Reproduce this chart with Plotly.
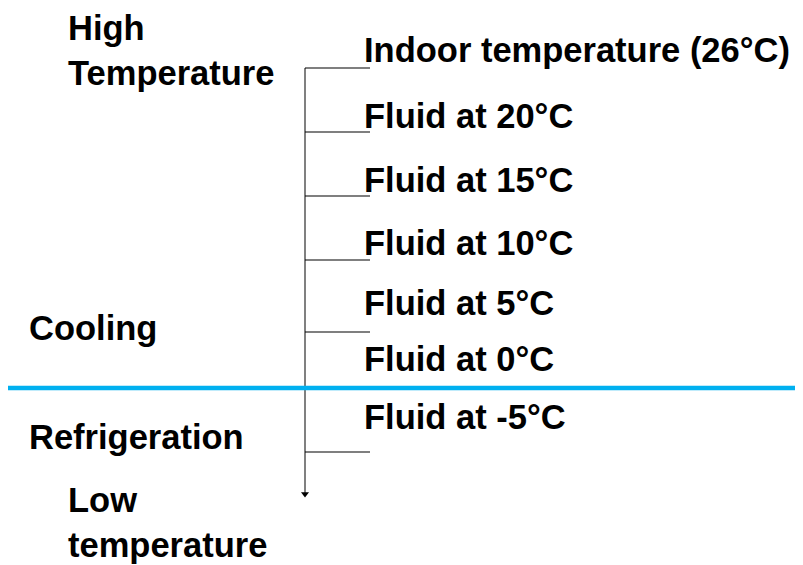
import plotly.graph_objects as go

W, H = 803, 565
OFF = 8  # page body margin in the browser

# Scale labels (right side) and their vertical positions (pixel-like units, top = 0)
fluid_labels = ["Indoor temperature (26°C)", "Fluid at 20°C", "Fluid at 15°C",
                "Fluid at 10°C", "Fluid at 5°C", "Fluid at 0°C", "Fluid at -5°C"]
fluid_y = [50, 116, 180, 243, 303, 359, 417]

# Tick marks along the temperature arrow
tick_y = [68, 132, 196, 260, 332, 452]

# Side labels (left side)
side_labels = ["High<br>Temperature", "Cooling", "Refrigeration", "Low<br>temperature"]
side_x = [66, 27, 27, 66]
side_y = [50, 328, 437, 522]

# Arrow and divider
axis_x = 305
arrow_top, arrow_bottom = 68, 497
tick_len = 65
divider_y = 388
divider_x = [OFF, 803]

FONT = "Liberation Sans, Arial, sans-serif"
FS = 34.5

fig = go.Figure()

# Vertical arrow line (gray)
fig.add_trace(go.Scatter(x=[axis_x, axis_x], y=[arrow_top, arrow_bottom - 4], mode="lines",
                         line=dict(color="#808080", width=2), hoverinfo="skip", showlegend=False))
# Arrowhead
fig.add_trace(go.Scatter(x=[axis_x], y=[arrow_bottom - 3], mode="markers",
                         marker=dict(symbol="triangle-down", size=7, color="black"),
                         hoverinfo="skip", showlegend=False))

# Tick marks
for ty in tick_y:
    fig.add_trace(go.Scatter(x=[axis_x, axis_x + tick_len], y=[ty, ty], mode="lines",
                             line=dict(color="black", width=1.2), hoverinfo="skip", showlegend=False))

# Blue divider line
fig.add_trace(go.Scatter(x=divider_x, y=[divider_y, divider_y], mode="lines",
                         line=dict(color="#00B0F0", width=4.5), hoverinfo="skip", showlegend=False))

annotations = []
for lab, y in zip(fluid_labels, fluid_y):
    annotations.append(dict(x=362, y=y, text="<b>" + lab + "</b>", showarrow=False,
                            xanchor="left", yanchor="middle", xref="x", yref="y",
                            font=dict(family=FONT, size=FS, color="black"), align="left"))
for lab, x, y in zip(side_labels, side_x, side_y):
    annotations.append(dict(x=x, y=y, text="<b>" + lab + "</b>", showarrow=False,
                            xanchor="left", yanchor="middle", xref="x", yref="y",
                            font=dict(family=FONT, size=FS, color="black"), align="left"))

fig.update_layout(
    width=W - OFF, height=H - OFF,
    margin=dict(l=0, r=0, t=0, b=0),
    paper_bgcolor="white", plot_bgcolor="white",
    xaxis=dict(range=[OFF, W], visible=False, fixedrange=True),
    yaxis=dict(range=[H, OFF], visible=False, fixedrange=True),
    annotations=annotations,
    showlegend=False,
)

fig.write_html("out.html")
